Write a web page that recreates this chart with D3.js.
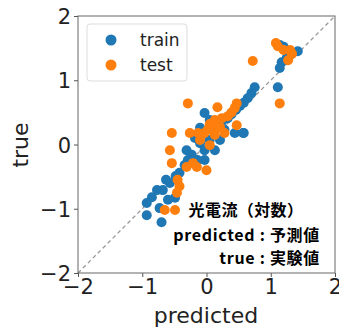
<!DOCTYPE html>
<html><head><meta charset="utf-8">
<script src="https://cdn.jsdelivr.net/npm/d3@7"></script>
<style>body{margin:0;background:#fff}svg{display:block}</style>
</head><body>
<script>
const trainPred = [1.14,1.20,1.42,1.30,1.25,1.17,1.14,1.11,0.75,0.70,0.64,0.58,0.52,0.46,0.39,-0.03,0.33,0.24,0.13,0.05,0.57,0.44,0.58,0.28,0.05,-0.10,-0.18,-0.31,-0.23,-0.29,-0.34,-0.42,-0.48,-0.57,-0.63,-0.68,-0.77,-0.85,-0.93,-0.93,-0.73,-0.70,-0.49,-0.60,-0.03,0.13,-0.03,-0.14,0.21,0.10,-0.10];
const trainTrue = [1.55,1.52,1.45,1.39,1.35,1.28,1.19,0.89,0.89,0.80,0.72,0.65,0.60,0.54,0.47,0.49,0.41,0.36,0.32,0.38,0.18,0.18,0.18,0.23,0.07,0.02,0.10,-0.09,-0.16,-0.24,-0.32,-0.44,-0.49,-0.60,-0.55,-0.71,-0.71,-0.82,-0.91,-1.10,-0.99,-1.21,-0.83,-0.86,-0.09,-0.09,-0.24,-0.24,0.07,0.23,0.26];
const testPred = [1.08,1.11,1.20,1.30,1.33,1.27,0.72,1.14,-0.29,0.17,0.47,0.44,0.39,0.33,0.24,0.13,0.05,0.10,0.21,0.02,0.47,-0.54,-0.26,-0.13,-0.03,0.13,0.28,-0.57,-0.54,-0.15,0.00,-0.31,-0.21,-0.45,-0.42,-0.46,-0.49,-0.65,0.05,-0.10];
const testTrue = [1.58,1.53,1.47,1.47,1.41,1.31,1.30,0.64,0.64,0.58,0.64,0.57,0.50,0.44,0.41,0.38,0.32,0.26,0.27,0.23,0.30,0.18,0.18,0.18,0.18,0.15,0.18,-0.09,-0.29,-0.35,-0.40,-0.35,-0.29,-0.55,-0.65,-0.75,-1.02,-1.02,-0.01,0.07];
const ticks = [-2,-1,0,1,2];
const legendLabels = ["train","test"];
const annotation = ["光電流（対数）","predicted : 予測値","true : 実験値"];
const colors = ["#1f77b4","#ff7f0e"];

const W=339,H=327;
const svg=d3.select("body").append("svg").attr("width",W).attr("height",H);
const x=d3.scaleLinear().domain([-2,2]).range([78,335]);
const y=d3.scaleLinear().domain([-2,2]).range([273,16]);
const font="DejaVu Sans";

// diagonal
svg.append("line").attr("x1",x(-2)).attr("y1",y(-2)).attr("x2",x(2)).attr("y2",y(2))
  .attr("stroke","#999").attr("stroke-width",1.3).attr("stroke-dasharray","4,3");

const series=[[trainPred,trainTrue],[testPred,testTrue]];
series.forEach((s,k)=>{
  svg.append("g").selectAll("circle").data(s[0].map((v,i)=>[v,s[1][i]])).join("circle")
    .attr("cx",d=>x(d[0])).attr("cy",d=>y(d[1])).attr("r",5).attr("fill",colors[k]);
});

// axes
const xa=svg.append("g").attr("transform",`translate(0,273)`).call(d3.axisBottom(x).tickValues(ticks).tickSize(4).tickPadding(2).tickFormat(d=>d<0?"\u2212"+(-d):d));
const ya=svg.append("g").attr("transform",`translate(78,0)`).call(d3.axisLeft(y).tickValues(ticks).tickSize(4).tickPadding(3).tickFormat(d=>d<0?"\u2212"+(-d):d));
[xa,ya].forEach(a=>{a.select(".domain").remove();a.selectAll("line").attr("stroke","#555");a.selectAll("text").attr("font-family",font).attr("font-size",21).attr("fill","#222");});
ya.selectAll("text").attr("dy","0.36em");
// frame
svg.append("rect").attr("x",78).attr("y",16).attr("width",257).attr("height",257).attr("fill","none").attr("stroke","#666").attr("stroke-width",1);

svg.append("text").attr("x",206).attr("y",323).attr("text-anchor","middle").attr("font-family",font).attr("font-size",22).attr("fill","#222").text("predicted");
svg.append("text").attr("transform","translate(28,145) rotate(-90)").attr("text-anchor","middle").attr("font-family",font).attr("font-size",22).attr("fill","#222").text("true");

// legend
svg.append("rect").attr("x",87).attr("y",24).attr("width",100).attr("height",57).attr("rx",3).attr("fill","#fff").attr("fill-opacity",0.8).attr("stroke","#ddd");
legendLabels.forEach((l,i)=>{
  svg.append("circle").attr("cx",111).attr("cy",40+i*25).attr("r",5.5).attr("fill",colors[i]);
  svg.append("text").attr("x",140).attr("y",46+i*25).attr("font-family",font).attr("font-size",17).attr("fill","#222").text(l);
});

// annotation
const ann=[[246,216,"middle"],[320,241,"end"],[320,264,"end"]];
annotation.forEach((t,i)=>{
  svg.append("text").attr("x",ann[i][0]).attr("y",ann[i][1]).attr("text-anchor",ann[i][2])
    .attr("font-family","Noto Sans CJK JP").attr("font-weight","bold").attr("font-size",16)
    .attr("letter-spacing",i===0?"0.4px":"0.7px").attr("fill","#000").text(t);
});
</script>
</body></html>
